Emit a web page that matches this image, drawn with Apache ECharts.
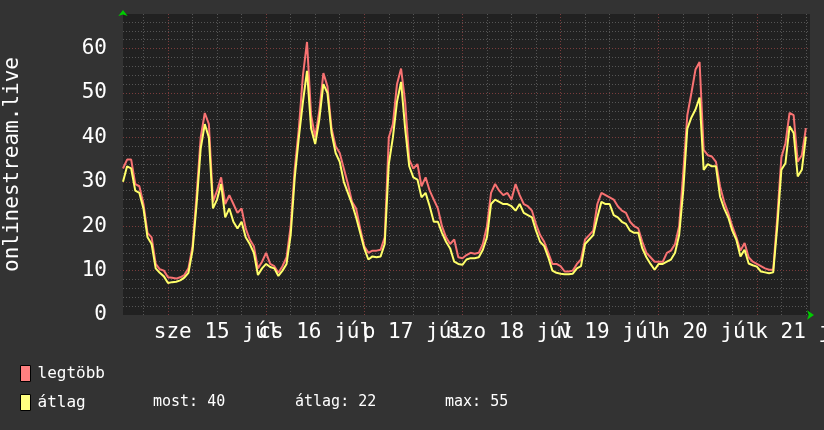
<!DOCTYPE html>
<html>
<head>
<meta charset="utf-8">
<title>onlinestream.live</title>
<script src="https://cdn.jsdelivr.net/npm/echarts@6/dist/echarts.min.js"></script>
<style>
  html, body { margin: 0; padding: 0; background: #333333; }
  #chart { width: 824px; height: 430px; }
</style>
</head>
<body>
<div id="chart"></div>
<script>
// hours are counted from midnight of 14 July, the graph starts at 13:00
var startHour = 13;
var endHour = 181;

var dayLabels = ["sze 15 júl", "cs 16 júl", "p 17 júl", "szo 18 júl", "v 19 júl", "h 20 júl", "k 21 júl"];
var noonHours = [36, 60, 84, 108, 132, 156, 180];
var midnightHours = [24, 48, 72, 96, 120, 144, 168];
var quarterHours = [18, 30, 36, 42, 54, 60, 66, 78, 84, 90, 102, 108, 114,
  126, 132, 138, 150, 156, 162, 174, 180];

var yLabels = [0, 10, 20, 30, 40, 50, 60];
var yMajor = [10, 20, 30, 40, 50, 60];
var yMinor = [2, 4, 6, 8, 12, 14, 16, 18, 22, 24, 26, 28, 32, 34, 36, 38,
  42, 44, 46, 48, 52, 54, 56, 58, 62, 64, 66];
var yMax = 67.8;

// legtöbb (max), one value per hour from 13:00 on the 14th
var maxValues = [
  33, 35, 35, 29.5, 29, 25, 18.5, 17.5, 11.5, 10.3, 10, 8.5,
  8.4, 8.2, 8.5, 9, 10.5, 15.5, 27, 40, 45.5, 43, 25.5, 28,
  31, 25, 27, 25, 23, 24, 19.5, 17, 15.5, 10.5, 12, 14,
  11.5, 11, 9.5, 11, 13, 20, 33, 42, 54, 61.5, 45, 40,
  46, 54.5, 51.5, 42, 38, 36.5, 33, 29.5, 25.5, 24, 19.5, 15.5,
  14, 14.5, 14.5, 14.7, 17.5, 40, 43, 52, 55.5, 48, 35, 33,
  34, 29, 31, 28, 26, 24, 20, 17.5, 16, 17, 13, 12.8,
  13.5, 14, 13.8, 14, 16, 20, 27.5, 29.5, 28, 27, 27.5, 26,
  29.5, 27, 25, 24.5, 23.5, 20.5, 18, 16.5, 14, 11.5, 11.5, 11,
  9.8, 9.8, 10, 11.5, 12.5, 17, 18, 19, 25, 27.5, 27, 26.5,
  26, 24.5, 23.5, 23, 21, 20, 19.5, 16.5, 14, 13, 12, 12,
  12, 14, 14.5, 16, 20, 32, 45, 50, 55.3, 57, 37.2, 36,
  35.7, 34.5, 29, 25.5, 23, 20, 17.5, 14.5, 16.2, 13, 12, 11.5,
  11, 10.5, 10.2, 10.2, 22, 35.5, 38.7, 45.5, 45, 34.5, 36, 42.1
];

// átlag (average)
var avgValues = [
  30, 33.5, 33, 28, 27.5, 24, 17.5, 16, 10.5, 9.5, 8.7, 7.2,
  7.4, 7.5, 7.8, 8.4, 9.5, 14.5, 25, 37.5, 43, 40, 24, 26,
  29.5, 22, 24, 21, 19.5, 21, 17.5, 16, 14, 9, 10.5, 11.5,
  10.8, 10.5, 8.8, 10, 11.5, 18, 31, 40, 48, 55, 42, 38.5,
  44, 52, 50, 41, 36.5, 34.5, 30, 27.5, 25, 22, 18.5, 15,
  12.5, 13.2, 13, 13.2, 16, 34, 40, 48, 52.5, 42, 33.5, 31,
  30.5, 26.5, 27.5, 24.5, 21, 21, 18.5, 16.5, 15, 12, 11.5, 11.3,
  12.5, 12.8, 12.8, 13, 14.7, 17.5, 25, 26, 25.5, 25, 25, 24.5,
  23.5, 25, 23, 22.5, 22, 19, 16.5, 15.5, 13, 10, 9.5, 9.3,
  9.2, 9.2, 9.3, 10.5, 11, 16, 17, 18, 22, 25.5, 25, 25,
  22.5, 22, 21, 20.5, 19, 18.5, 18.5, 15, 13, 11.5, 10.2, 11.5,
  11.5, 12, 12.5, 14, 18, 28, 42, 44.5, 46.3, 49, 32.7, 34,
  33.5, 33.5, 26.7, 24, 22, 19, 16.9, 13.2, 14.7, 11.6, 11.2, 10.9,
  9.8, 9.6, 9.4, 9.6, 20, 32.7, 34.2, 42.5, 41, 31.2, 32.7, 40.2
];

var statNames = ["most", "átlag", "max"];
var statValues = [40, 22, 55];
var statLeft = [153, 295, 445];

var monoFont = "DejaVu Sans Mono";

function toPairs(values) {
  return values.map(function (v, i) { return [startHour + i, v]; });
}

// the day labels overlap each other, so every other one goes on its own axis
function dayLabelAxis(hours) {
  return {
    type: "value", min: startHour, max: endHour, position: "bottom",
    axisLine: { show: false },
    axisTick: { show: false },
    splitLine: { show: false },
    axisLabel: {
      show: true, customValues: hours, margin: 7,
      showMinLabel: true, showMaxLabel: true, hideOverlap: false,
      color: "#ffffff", fontFamily: monoFont, fontSize: 21,
      formatter: function (v) { return dayLabels[noonHours.indexOf(v)]; }
    }
  };
}

var chart = echarts.init(document.getElementById("chart"));

var option = {
  backgroundColor: "#333333",
  animation: false,
  grid: {
    left: 123, top: 14, width: 687, height: 301,
    show: true, backgroundColor: "#212121", borderWidth: 0,
    outerBoundsMode: "none"
  },
  legend: {
    orient: "vertical",
    left: 20, top: 365, padding: 0,
    itemWidth: 10, itemHeight: 16, itemGap: 12,
    icon: "rect",
    textStyle: { color: "#ffffff", fontFamily: monoFont, fontSize: 16, padding: [0, 0, 0, 2] },
    data: [
      { name: "legtöbb", itemStyle: { color: "#ff8080", borderColor: "#000", borderWidth: 1 } },
      { name: "átlag", itemStyle: { color: "#ffff80", borderColor: "#000", borderWidth: 1 } }
    ]
  },
  graphic: statNames.map(function (n, i) {
    return {
      type: "text", x: statLeft[i], y: 402,
      style: { text: n + ": " + statValues[i], fill: "#ffffff",
        font: "15px " + monoFont, verticalAlign: "middle" }
    };
  }),
  xAxis: [
    {
      type: "value", min: startHour, max: endHour, position: "bottom",
      axisLine: { show: true, symbol: ["none", "arrow"], symbolSize: [7, 7], symbolOffset: [0, 4],
        lineStyle: { color: "#00cc00", width: 0 } },
      axisTick: { show: false, customValues: quarterHours },
      axisLabel: { show: false },
      splitLine: { show: true, lineStyle: { color: "#555555", width: 1, type: [1, 2] } }
    },
    {
      type: "value", min: startHour, max: endHour, position: "bottom",
      axisLine: { show: false },
      axisTick: { show: false, customValues: midnightHours },
      axisLabel: { show: false },
      splitLine: { show: true, lineStyle: { color: "#7a3c3c", width: 1, type: [1, 2] } }
    },
    dayLabelAxis(noonHours.filter(function (h, i) { return i % 2 === 0; })),
    dayLabelAxis(noonHours.filter(function (h, i) { return i % 2 === 1; }))
  ],
  yAxis: [
    {
      type: "value", min: 0, max: yMax,
      axisLine: { show: false },
      axisTick: { show: false, customValues: yMinor },
      axisLabel: { show: false },
      splitLine: { show: true, lineStyle: { color: "#555555", width: 1, type: [1, 2] } }
    },
    {
      type: "value", min: 0, max: yMax, position: "left",
      name: "onlinestream.live", nameLocation: "middle", nameGap: 100,
      nameTextStyle: { color: "#ffffff", fontFamily: monoFont, fontSize: 21 },
      axisLine: { show: true, symbol: ["none", "arrow"], symbolSize: [7, 6], symbolOffset: [0, 4],
        lineStyle: { color: "#00cc00", width: 0 } },
      axisTick: { show: false, customValues: yMajor },
      axisLabel: {
        show: true, customValues: yLabels, margin: 16,
        color: "#ffffff", fontFamily: monoFont, fontSize: 21
      },
      splitLine: { show: true, lineStyle: { color: "#7a3c3c", width: 1, type: [1, 2] } }
    }
  ],
  series: [
    {
      name: "legtöbb", type: "line", symbol: "none",
      data: toPairs(maxValues),
      itemStyle: { color: "#ff8080" },
      lineStyle: { color: "#f87272", width: 2 }
    },
    {
      name: "átlag", type: "line", symbol: "none",
      data: toPairs(avgValues),
      itemStyle: { color: "#ffff80" },
      lineStyle: { color: "#ffff6a", width: 2 }
    }
  ]
};

chart.setOption(option);
window.addEventListener("resize", function () { chart.resize(); });
</script>
</body>
</html>
